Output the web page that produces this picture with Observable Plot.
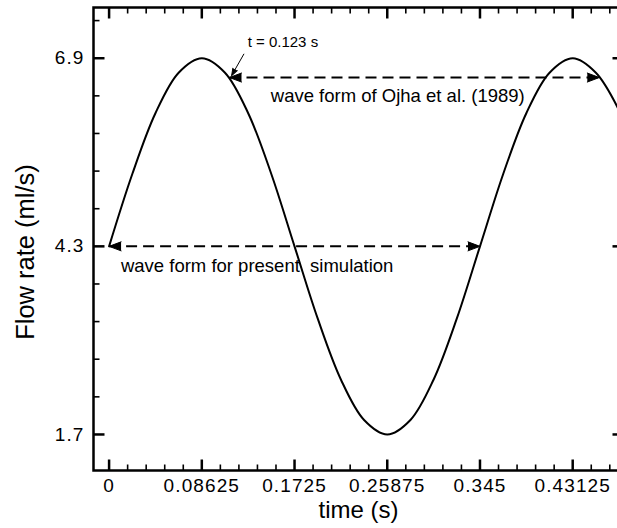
<!DOCTYPE html>
<html>
<head>
<meta charset="utf-8">
<script src="https://cdn.jsdelivr.net/npm/d3@7"></script>
<script src="https://cdn.jsdelivr.net/npm/@observablehq/plot@0.6"></script>
<style>
  html, body { margin: 0; padding: 0; background: #fff; }
  g[aria-label="x-axis tick label"] text, g[aria-label="y-axis tick label"] text { letter-spacing: 1.1px; }
</style>
</head>
<body>
<div id="chart"></div>
<script>
// Waveform samples (time in s, flow rate in ml/s)
const time = [0, 0.0216, 0.0431, 0.0647, 0.0863, 0.1078, 0.1294, 0.1509, 0.1725, 0.1941, 0.2156, 0.2372, 0.2588, 0.2803, 0.3019, 0.3234, 0.345, 0.3666, 0.3881, 0.4097, 0.4313, 0.4528, 0.4744, 0.4900];
const flow = [4.30, 5.30, 6.14, 6.70, 6.90, 6.70, 6.14, 5.30, 4.30, 3.30, 2.46, 1.90, 1.70, 1.90, 2.46, 3.30, 4.30, 5.30, 6.14, 6.70, 6.90, 6.70, 6.18, 5.60];

// Axis ticks
const xMajorTicks = [0, 0.08625, 0.1725, 0.25875, 0.345, 0.43125];
const xTickLabels = ["0", "0.08625", "0.1725", "0.25875", "0.345", "0.43125"];
const xMinorTicks = [0.01725, 0.0345, 0.05175, 0.069, 0.1035, 0.12075, 0.138, 0.15525, 0.18975, 0.207, 0.22425, 0.2415, 0.276, 0.29325, 0.3105, 0.32775, 0.36225, 0.3795, 0.39675, 0.414, 0.4485, 0.46575];
const yMajorTicks = [1.7, 4.3, 6.9];
const yTickLabels = ["1.7", "4.3", "6.9"];
const yMinorTicks = [2.22, 2.74, 3.26, 3.78, 4.82, 5.34, 5.86, 6.38, 7.42];

// Annotations
const presentArrowX = [0, 0.345];
const presentArrowY = 4.3;
const ojhaArrowX = [0.112, 0.456];
const ojhaArrowY = 6.633;
const pointerX = [0.1255, 0.1140];
const pointerY = [6.961, 6.661];
const noteTexts = ["t = 0.123 s", "wave form of Ojha et al. (1989)", "wave form for present  simulation"];
const noteX = [0.1289, 0.1504, 0.0110];
const noteY = [7.117, 6.370, 4.033];
const noteSizes = [15, 18.5, 18.5];
const xLabel = "time (s)";
const yLabel = "Flow rate (ml/s)";

const xDomain = [-0.0145, 0.4785];
const yDomain = [1.202, 7.601];

const samples = time.map((t, i) => ({t, q: flow[i]}));
const xLab = new Map(xMajorTicks.map((d, i) => [d, xTickLabels[i]]));
const yLab = new Map(yMajorTicks.map((d, i) => [d, yTickLabels[i]]));
const dashed = [
  {x1: presentArrowX[0], x2: presentArrowX[1], y: presentArrowY},
  {x1: ojhaArrowX[0], x2: ojhaArrowX[1], y: ojhaArrowY}
];
const heads = [
  {x: presentArrowX[0], y: presentArrowY, r: 270},
  {x: presentArrowX[1], y: presentArrowY, r: 90},
  {x: ojhaArrowX[0], y: ojhaArrowY, r: 270},
  {x: ojhaArrowX[1], y: ojhaArrowY, r: 90}
];
const notes = noteTexts.map((s, i) => ({s, x: noteX[i], y: noteY[i], f: noteSizes[i]}));
const pointer = [{x1: pointerX[0], y1: pointerY[0], x2: pointerX[1], y2: pointerY[1]}];

const font = "Liberation Sans, Arial, Helvetica, sans-serif";
const W = 617, H = 528, mL = 93, mR = -6, mT = 7, mB = 58;
const frameW = W - mL - mR, frameH = H - mT - mB;
// tick lengths (px) converted to data units
const xPerPx = (xDomain[1] - xDomain[0]) / frameW;
const yPerPx = (yDomain[1] - yDomain[0]) / frameH;
const major = 11, minor = 6;

function xTicks(vals, len, fromTop) {
  const y0 = fromTop ? yDomain[1] : yDomain[0];
  const y1 = fromTop ? y0 - len * yPerPx : y0 + len * yPerPx;
  return vals.map(v => ({x1: v, x2: v, y1: y0, y2: y1}));
}
function yTicks(vals, len, fromRight) {
  const x0 = fromRight ? xDomain[1] : xDomain[0];
  const x1 = fromRight ? x0 - len * xPerPx : x0 + len * xPerPx;
  return vals.map(v => ({x1: x0, x2: x1, y1: v, y2: v}));
}
const majorTickSegs = [
  ...xTicks(xMajorTicks, major, false), ...xTicks(xMajorTicks, major, true),
  ...yTicks(yMajorTicks, major, false), ...yTicks(yMajorTicks, major, true)
];
const minorTickSegs = [
  ...xTicks(xMinorTicks, minor, false), ...xTicks(xMinorTicks, minor, true),
  ...yTicks(yMinorTicks, minor, false), ...yTicks(yMinorTicks, minor, true)
];

const chart = Plot.plot({
  width: W,
  height: H,
  marginLeft: mL,
  marginRight: mR,
  marginTop: mT,
  marginBottom: mB,
  style: {fontFamily: font, color: "black", background: "white"},
  x: {domain: xDomain},
  y: {domain: yDomain},
  marks: [
    // tick labels
    Plot.axisX(xMajorTicks, {anchor: "bottom", tickSize: 0, tickPadding: 8, fontSize: 19, tickFormat: d => xLab.get(d), label: null}),
    Plot.axisY(yMajorTicks, {anchor: "left", tickSize: 0, tickPadding: 9, fontSize: 19, tickFormat: d => yLab.get(d), label: null}),
    // curve
    Plot.line(samples, {x: "t", y: "q", curve: "catmull-rom", strokeWidth: 2, stroke: "black"}),
    // dashed arrows
    Plot.link(dashed, {x1: "x1", x2: "x2", y1: "y", y2: "y", strokeWidth: 2, strokeDasharray: "11,6", stroke: "black"}),
    Plot.vector(heads, {x: "x", y: "y", rotate: "r", length: 12, r: 4.5, shape: "spike", anchor: "end", fill: "black", stroke: "black", strokeWidth: 1}),
    // pointer
    Plot.link(pointer, {x1: "x1", y1: "y1", x2: "x2", y2: "y2", strokeWidth: 1, stroke: "black"}),
    Plot.vector(pointer, {x: "x2", y: "y2", rotate: 209, length: 7, r: 2.5, shape: "spike", anchor: "end", fill: "black", stroke: "black", strokeWidth: 1}),
    // notes
    Plot.text(notes, {x: "x", y: "y", text: "s", fontSize: "f", textAnchor: "start", lineAnchor: "middle", fill: "black"}),
    // axis titles
    Plot.text([yLabel], {frameAnchor: "left", text: d => d, rotate: -90, dx: -68, dy: 13, fontSize: 25.5, textAnchor: "middle", lineAnchor: "middle", fill: "black"}),
    Plot.text([xLabel], {frameAnchor: "bottom", text: d => d, dy: 40, fontSize: 24, textAnchor: "middle", lineAnchor: "middle", fill: "black"}),
    // frame
    Plot.frame({strokeWidth: 2.5, stroke: "black"}),
    // inward ticks as links in data units
    Plot.link(majorTickSegs, {x1: "x1", x2: "x2", y1: "y1", y2: "y2", stroke: "black", strokeWidth: 2.5}),
    Plot.link(minorTickSegs, {x1: "x1", x2: "x2", y1: "y1", y2: "y2", stroke: "black", strokeWidth: 1.6})
  ]
});
document.getElementById("chart").appendChild(chart);
</script>
</body>
</html>
